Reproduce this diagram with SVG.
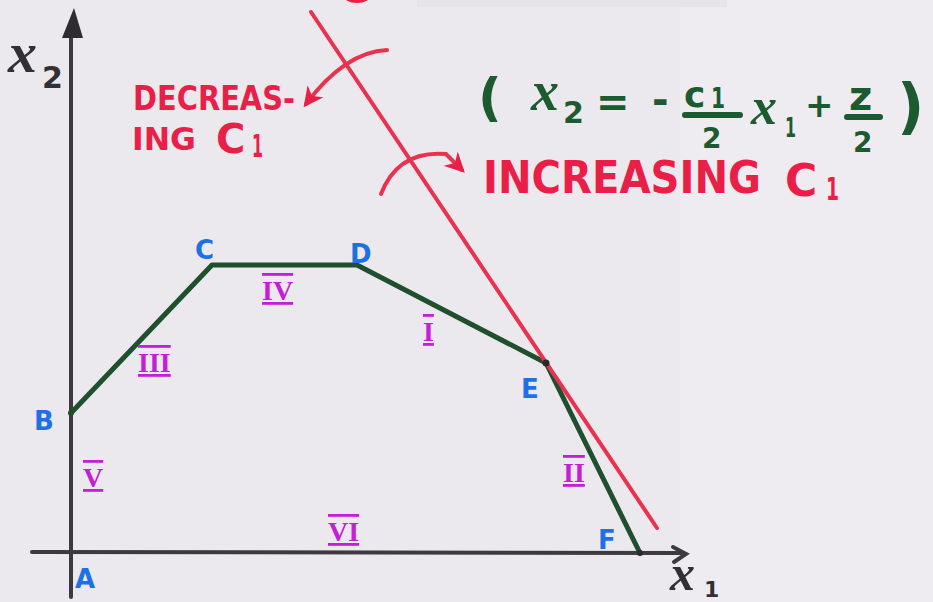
<svg xmlns="http://www.w3.org/2000/svg" width="933" height="602" viewBox="0 0 933 602">
<style>
.axis{stroke:#3c393f;stroke-width:4;fill:none;stroke-linecap:round}
.feas{stroke:#1f4f2c;stroke-width:5;fill:none;stroke-linejoin:round;stroke-linecap:round}
.obj{stroke:#e8324f;stroke-width:4;fill:none;stroke-linecap:round}
.hand{font-family:"DejaVu Sans","Liberation Sans",sans-serif;font-weight:bold}
.red{fill:#ea1f48}
.grn{fill:#1c5a30}
.blue{fill:#1f6fe6;font-size:26px}
.roman{font-family:"Liberation Serif","DejaVu Serif",serif;font-weight:bold;fill:#c21fd6;font-size:28px;text-decoration:overline underline}
.var{font-family:"Liberation Serif",serif;font-style:italic;font-weight:bold}
</style>
<defs>
<marker id="ah" viewBox="0 0 10 10" refX="8" refY="5" markerWidth="5" markerHeight="5" orient="auto">
<path d="M0,0 L10,5 L0,10 L3,5 Z" fill="#ea1f48"/>
</marker>
</defs>
<rect width="933" height="602" fill="#ebe8ee"/>
<rect x="680" y="0" width="253" height="602" fill="#efecf1"/>
<rect x="417" y="0" width="310" height="7" fill="#e7e4e9"/>
<ellipse cx="357" cy="-5" rx="14" ry="8" fill="#ea1f48"/>

<g id="axes">
<line class="axis" x1="71" y1="36" x2="71" y2="597"/>
<polygon points="74,8 62,38 83,38" fill="#2f2c31"/>
<line class="axis" x1="32" y1="552" x2="683" y2="553"/>
<polyline class="axis" points="673,547 686,554 674,562"/>
<text class="var" x="8" y="72" font-size="58" fill="#333035">x</text>
<text class="hand" x="42" y="88" font-size="30" fill="#333035">2</text>
<text class="var" x="670" y="590" font-size="50" fill="#333035">x</text>
<text class="hand" x="704" y="597" font-size="22" fill="#333035">1</text>
</g>

<g id="connectors">
<polyline id="feasible-boundary" class="feas" points="71,413 212,265 357,265 546,363 640,553"/>
<line id="objective-line" class="obj" x1="311" y1="12" x2="657" y2="528"/>
<path id="arrow-decreasing" class="obj" d="M387,50 Q345,52 306,104" marker-end="url(#ah)"/>
<path id="arrow-increasing" class="obj" d="M381,194 Q398,150 446,154 L462,170" marker-end="url(#ah)"/>
</g>

<g id="label-decreasing" class="hand red">
<text x="133" y="110" font-size="34" textLength="162" lengthAdjust="spacingAndGlyphs">DECREAS-</text>
<text x="132" y="150" font-size="32" textLength="64" lengthAdjust="spacingAndGlyphs">ING</text>
<text x="216" y="153" font-size="40">C</text>
<text x="252" y="157" font-size="32" textLength="11" lengthAdjust="spacingAndGlyphs">1</text>
</g>

<g id="label-increasing" class="hand red">
<text x="483" y="193" font-size="44" textLength="278" lengthAdjust="spacingAndGlyphs">INCREASING</text>
<text x="785" y="196" font-size="44">C</text>
<text x="826" y="200" font-size="32" textLength="13" lengthAdjust="spacingAndGlyphs">1</text>
</g>

<g id="equation" class="hand grn">
<text x="478" y="115" font-size="52">(</text>
<text class="var" x="531" y="110" font-size="56">x</text>
<text x="563" y="123" font-size="30">2</text>
<text x="596" y="116" font-size="40">=</text>
<text x="652" y="114" font-size="40">-</text>
<text x="684" y="107" font-size="36">c</text>
<text x="711" y="108" font-size="28" textLength="14" lengthAdjust="spacingAndGlyphs">1</text>
<line x1="685" y1="115" x2="740" y2="115" stroke="#1c5a30" stroke-width="6" stroke-linecap="round"/>
<text x="702" y="148" font-size="28">2</text>
<text class="var" x="751" y="124" font-size="52">x</text>
<text x="785" y="137" font-size="26" textLength="11" lengthAdjust="spacingAndGlyphs">1</text>
<text x="805" y="117" font-size="34">+</text>
<text x="849" y="110" font-size="40">z</text>
<line x1="847" y1="117" x2="880" y2="117" stroke="#1c5a30" stroke-width="6" stroke-linecap="round"/>
<text x="853" y="152" font-size="28">2</text>
<text x="897" y="127" font-size="60">)</text>
</g>

<g id="node-A"><text class="hand blue" x="75" y="588">A</text></g>
<g id="node-B"><circle cx="71" cy="413" r="3" fill="#1f4f2c"/><text class="hand blue" x="34" y="430">B</text></g>
<g id="node-C"><text class="hand blue" x="195" y="259">C</text></g>
<g id="node-D"><text class="hand blue" x="350" y="263">D</text></g>
<g id="node-E"><circle cx="546" cy="363" r="3.5" fill="#2a2a2a"/><text class="hand blue" x="521" y="398">E</text></g>
<g id="node-F"><circle cx="640" cy="553" r="3" fill="#2a2a2a"/><text class="hand blue" x="598" y="549">F</text></g>

<g id="regions">
<text class="roman" x="138" y="372">III</text>
<text class="roman" x="262" y="300">IV</text>
<text class="roman" x="423" y="341">I</text>
<text class="roman" x="563" y="482">II</text>
<text class="roman" x="83" y="487">V</text>
<text class="roman" x="328" y="541">VI</text>
</g>
</svg>
